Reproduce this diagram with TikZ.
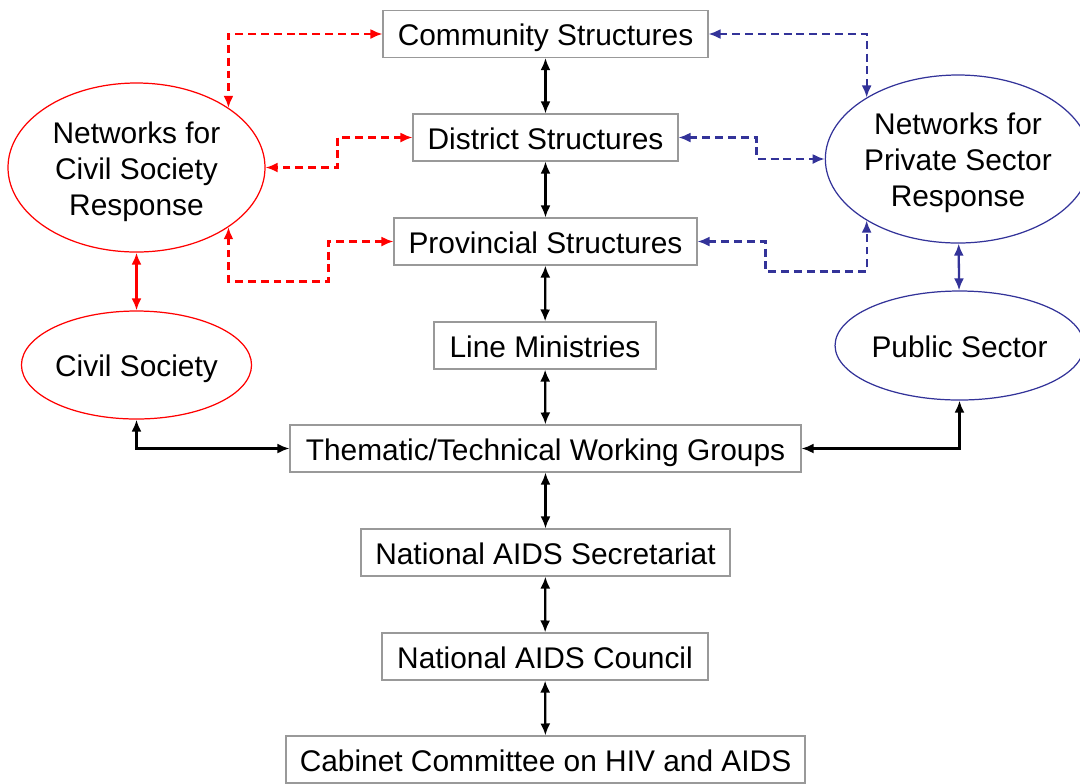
\documentclass[tikz,border=0pt]{standalone}
\usepackage{fontspec}
\setmainfont{Liberation Sans}
\usepackage{tikz}
\usetikzlibrary{arrows.meta,positioning,shapes.geometric}
\definecolor{netblue}{RGB}{51,51,153}

\begin{document}
\begin{tikzpicture}[
  font=\fontsize{17}{20.5}\selectfont,
  box/.style={draw=gray!80,line width=0.6pt,minimum height=0.94cm,inner sep=0pt,text height=13.6pt,text depth=0pt},
  oval/.style={ellipse,draw=#1,line width=0.7pt,inner sep=0pt,align=center,text height=13.6pt,text depth=0pt},
  link/.style={line width=1.3pt,{Latex[length=2.4mm,width=2mm]}-{Latex[length=2.4mm,width=2mm]}},
  dlink/.style={link,#1,line width=1.2pt,dash pattern=on 4.5pt off 2.8pt}
]
\useasboundingbox (0,0) rectangle (21.6,-15.66);
\node[box,minimum width=6.5cm] (comm) at (10.91,-0.68) {Community Structures};
\node[box,minimum width=5.3cm] (dist) at (10.91,-2.75) {District Structures};
\node[box,minimum width=6.06cm] (prov) at (10.91,-4.83) {Provincial Structures};
\node[box,minimum width=4.44cm] (line) at (10.9,-6.91) {Line Ministries};
\node[box,minimum width=10.22cm] (them) at (10.91,-8.97) {Thematic/Technical Working Groups};
\node[box,minimum width=7.38cm] (sec) at (10.91,-11.05) {National AIDS Secretariat};
\node[box,minimum width=6.52cm] (cncl) at (10.9,-13.13) {National AIDS Council};
\node[box,minimum width=10.38cm] (cab) at (10.91,-15.19) {Cabinet Committee on HIV and AIDS};
\node[oval=red,minimum width=5.14cm,minimum height=3.38cm,text height=55pt] (ncs) at (2.73,-3.35) {Networks for\\Civil Society\\Response};
\node[oval=red,minimum width=4.54cm,minimum height=2.16cm] (cs) at (2.73,-7.3) {Civil Society};
\node[oval=netblue,minimum width=5.04cm,minimum height=3.36cm,text height=54pt] (nps) at (19.16,-3.18) {Networks for\\Private Sector\\Response};
\node[oval=netblue,minimum width=4.54cm,minimum height=2.18cm] (ps) at (19.19,-6.91) {Public Sector};

\draw[link] (comm) -- (dist);
\draw[link] (dist) -- (prov);
\draw[link] (prov) -- (line);
\draw[link] (line) -- (them);
\draw[link] (them) -- (sec);
\draw[link] (sec) -- (cncl);
\draw[link] (cncl) -- (cab);
\draw[link] (cs.south) |- (them.west);
\draw[link] (them.east) -| (ps.south);
\draw[link,red] (ncs) -- (cs);
\draw[link,netblue] (nps) -- (ps);

\draw[dlink=red] (comm.west) -| (ncs.33);
\draw[dlink=red] (dist.west) -- ++(-1.5,0) |- (ncs.east);
\draw[dlink=red] (prov.west) -- ++(-1.3,0) -- ++(0,-0.8) -| (ncs.-33);
\draw[dlink=netblue] (comm.east) -| (nps.146);
\draw[dlink=netblue] (dist.east) -- ++(1.56,0) |- (nps.west);
\draw[dlink=netblue] (prov.east) -- ++(1.36,0) -- ++(0,-0.6) -| (nps.214);
\end{tikzpicture}
\end{document}
